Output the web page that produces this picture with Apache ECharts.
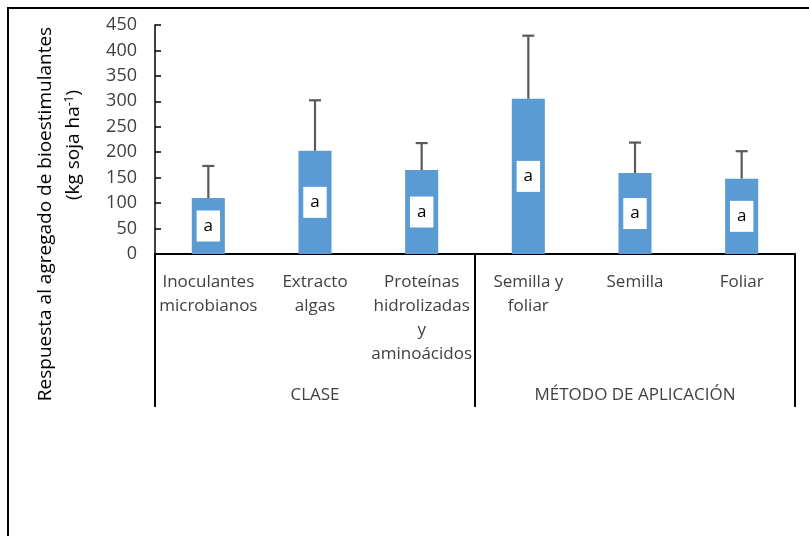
<!DOCTYPE html>
<html>
<head>
<meta charset="utf-8">
<script src="https://cdn.jsdelivr.net/npm/echarts@6/dist/echarts.min.js"></script>
<style>
html,body{margin:0;padding:0;background:#fff;}
#chart{width:809px;height:536px;}
</style>
</head>
<body>
<div id="chart"></div>
<script>
// Data
const categories = [
  "Inoculantes\nmicrobianos",
  "Extracto\nalgas",
  "Proteínas\nhidrolizadas\ny\naminoácidos",
  "Semilla y\nfoliar",
  "Semilla",
  "Foliar"
];
const groups = ["CLASE", "MÉTODO DE APLICACIÓN"];
const means = [110, 203, 165, 305, 159, 148];
const upperErr = [173, 302, 218, 429, 219, 202];
const letters = ["a", "a", "a", "a", "a", "a"];
const yTicks = { min: 0, max: 450, interval: 50 };
const yTitle1 = "Respuesta al agregado de bioestimulantes";
const yTitle2 = "(kg soja ha{sup|-1})";

const FONT = "'Open Sans', 'Noto Sans', sans-serif";

const chart = echarts.init(document.getElementById('chart'), null, { renderer: 'canvas' });

const errData = means.map((m, i) => [i, m, upperErr[i]]);

const option = {
  animation: false,
  backgroundColor: '#ffffff',
  textStyle: { fontFamily: FONT },
  grid: { left: 155, right: 14, top: 25, bottom: 282, containLabel: false, outerBoundsMode: 'none' },
  xAxis: [
    {
      type: 'category',
      data: categories,
      position: 'bottom',
      axisLine: { show: true, lineStyle: { color: '#000', width: 2 } },
      axisTick: { show: false },
      axisLabel: {
        interval: 0, margin: 16, fontSize: 17, lineHeight: 24,
        color: '#404040', fontFamily: FONT, align: 'center'
      },
      splitLine: { show: false }
    },
    {
      type: 'category',
      data: groups,
      position: 'bottom',
      offset: 0,
      axisLine: { show: false },
      axisTick: { show: true, length: 153, inside: false, interval: 0,
        lineStyle: { color: '#000', width: 2 } },
      axisLabel: { interval: 0, margin: 133, fontSize: 17, color: '#404040', fontFamily: FONT },
      splitLine: { show: false }
    }
  ],
  yAxis: {
    type: 'value',
    min: yTicks.min, max: yTicks.max, interval: yTicks.interval,
    axisLine: { show: true, lineStyle: { color: '#000', width: 1.5 } },
    axisTick: { show: true, inside: true, length: 6, lineStyle: { color: '#000', width: 1.5 } },
    axisLabel: { fontSize: 18, color: '#404040', margin: 18, fontFamily: FONT, showMinLabel: true, showMaxLabel: true },
    splitLine: { show: false }
  },
  series: [
    {
      type: 'bar',
      data: means,
      barWidth: '31%',
      itemStyle: { color: '#5B9BD5' },
      label: {
        show: true, position: 'inside',
        formatter: (p) => letters[p.dataIndex],
        backgroundColor: '#ffffff', color: '#000', fontSize: 17, fontFamily: FONT,
        padding: [6, 7], lineHeight: 19
      },
      z: 2
    },
    {
      type: 'custom',
      data: errData,
      z: 3,
      renderItem: function (params, api) {
        const x = api.value(0);
        const base = api.coord([x, api.value(1)]);
        const top = api.coord([x, api.value(2)]);
        const cap = 6;
        const style = { stroke: '#595959', lineWidth: 2.2 };
        return {
          type: 'group',
          children: [
            { type: 'line', shape: { x1: base[0], y1: base[1], x2: top[0], y2: top[1] }, style: style },
            { type: 'line', shape: { x1: top[0] - cap, y1: top[1], x2: top[0] + cap, y2: top[1] }, style: style }
          ]
        };
      }
    }
  ],
  graphic: [
    {
      type: 'rect', silent: true, z: 100,
      shape: { x: 8, y: 8, width: 1000, height: 1000 },
      style: { fill: 'none', stroke: '#000', lineWidth: 2 }
    },
    {
      type: 'text', silent: true, z: 100,
      x: 46, y: 214, rotation: Math.PI / 2,
      style: { text: yTitle1, fontSize: 19, fontFamily: FONT, fill: '#000', align: 'center', verticalAlign: 'middle' }
    },
    {
      type: 'text', silent: true, z: 100,
      x: 74, y: 145, rotation: Math.PI / 2,
      style: {
        text: yTitle2, fontSize: 19, fontFamily: FONT, fill: '#000', align: 'center', verticalAlign: 'middle',
        rich: { sup: { fontSize: 12, fontFamily: FONT, fill: '#000', verticalAlign: 'top', padding: [0, 0, 8, 0] } }
      }
    }
  ]
};

chart.setOption(option);
</script>
</body>
</html>
